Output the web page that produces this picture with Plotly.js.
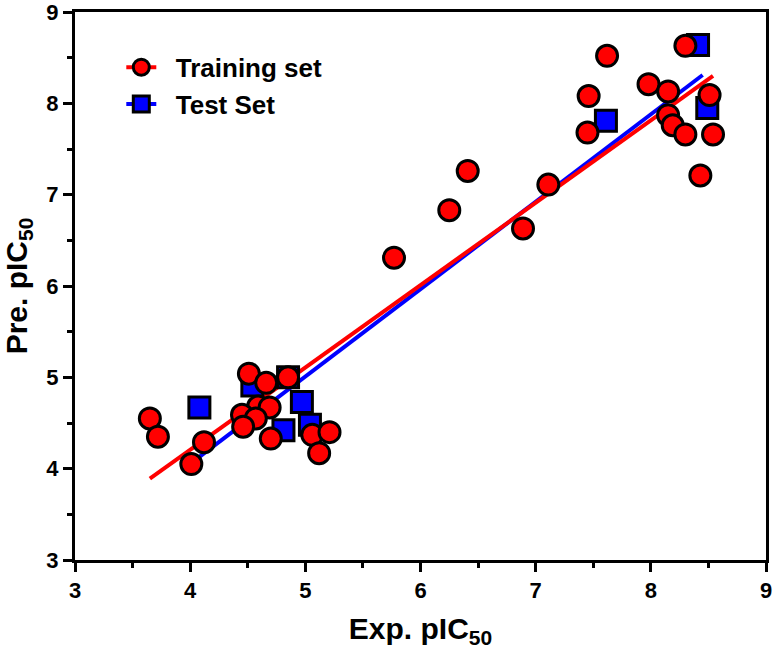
<!DOCTYPE html>
<html>
<head>
<meta charset="utf-8">
<script src="https://cdn.plot.ly/plotly-3.0.1.min.js"></script>
<style>html,body{margin:0;padding:0;background:#fff;}#chart{width:774px;height:656px;}</style>
</head>
<body>
<div id="chart"></div>
<script>
// Training set (red circles)
var trainX = [3.65, 3.72, 4.01, 4.12, 4.51, 4.66, 4.85, 4.59, 4.69, 4.45, 4.57, 4.46, 4.70, 5.06, 5.21, 5.12,
              5.77, 6.25, 6.41, 6.89, 7.11,
              7.62, 7.46, 7.45, 7.98, 8.15, 8.15, 8.19, 8.30, 8.54, 8.51, 8.30, 8.43];
var trainY = [4.55, 4.35, 4.05, 4.29, 5.04, 4.94, 5.00, 4.68, 4.67, 4.59, 4.55, 4.46, 4.33, 4.37, 4.40, 4.17,
              6.31, 6.83, 7.26, 6.63, 7.11,
              8.52, 8.08, 7.68, 8.21, 8.13, 7.87, 7.76, 7.66, 7.66, 8.09, 8.63, 7.21];
// Test set (blue squares)
var testX = [4.08, 4.54, 4.85, 4.97, 4.81, 5.04, 7.61, 8.49, 8.41];
var testY = [4.67, 4.91, 5.00, 4.73, 4.42, 4.48, 7.81, 7.95, 8.64];
// Regression lines (end points)
var trainFitX = [3.65, 8.54];
var trainFitY = [3.89, 8.30];
var testFitX = [4.04, 8.45];
var testFitY = [4.09, 8.31];
var tickVals = [3, 4, 5, 6, 7, 8, 9];
var tickLabels = ['3', '4', '5', '6', '7', '8', '9'];

var FONT = 'Liberation Sans, Arial, Helvetica, sans-serif';
var RED = '#FF0000', BLUE = '#0000FF';

var traces = [
  {x: testFitX, y: testFitY, mode: 'lines', line: {color: BLUE, width: 4}, showlegend: false, hoverinfo: 'skip'},
  {x: trainFitX, y: trainFitY, mode: 'lines', line: {color: RED, width: 4}, showlegend: false, hoverinfo: 'skip'},
  {x: testX, y: testY, mode: 'markers', showlegend: false,
   marker: {symbol: 'square', size: 21, color: BLUE, line: {color: '#000', width: 3}}},
  {x: trainX, y: trainY, mode: 'markers', showlegend: false,
   marker: {symbol: 'circle', size: 21, color: RED, line: {color: '#000', width: 3}}},
  {x: [null], y: [null], mode: 'lines+markers', name: '\u00A0\u00A0Training set',
   line: {color: RED, width: 4}, marker: {symbol: 'circle', size: 21, color: RED, line: {color: '#000', width: 3}}},
  {x: [null], y: [null], mode: 'lines+markers', name: '\u00A0\u00A0Test Set',
   line: {color: BLUE, width: 4}, marker: {symbol: 'square', size: 21, color: BLUE, line: {color: '#000', width: 3}}}
];

function makeAxis(extra) {
  return Object.assign({
    range: [3, 9],
    tickmode: 'array',
    tickvals: tickVals,
    ticktext: tickLabels.map(function (t) { return '<b>' + t + '</b>'; }),
    ticklabeloverflow: 'allow',
    showgrid: false,
    zeroline: false,
    showline: true,
    linecolor: '#000',
    linewidth: 3,
    mirror: true,
    ticks: 'outside',
    ticklen: 9,
    tickwidth: 3,
    tickcolor: '#000',
    minor: {dtick: 0.5, ticks: 'outside', ticklen: 5, tickwidth: 3, tickcolor: '#000', showgrid: false},
    tickfont: {family: FONT, size: 22, color: '#000', weight: 'bold'}
  }, extra);
}

var layout = {
  width: 774, height: 656,
  margin: {l: 75, r: 8, t: 12, b: 96},
  paper_bgcolor: '#fff', plot_bgcolor: '#fff',
  xaxis: makeAxis({
    title: {text: '<b>Exp. pIC<sub>50</sub></b>', font: {family: FONT, size: 30, color: '#000'}, standoff: 16}
  }),
  yaxis: makeAxis({
    title: {text: '<b>Pre. pIC<sub>50</sub></b>', font: {family: FONT, size: 30, color: '#000'}, standoff: 12}
  }),
  legend: {
    x: 0.067, y: 0.942, xanchor: 'left', yanchor: 'top',
    bgcolor: 'rgba(0,0,0,0)', borderwidth: 0,
    font: {family: FONT, size: 26, color: '#000', weight: 'bold'}
  },
  showlegend: true
};

Plotly.newPlot('chart', traces, layout, {displayModeBar: false, staticPlot: true});
</script>
</body>
</html>
